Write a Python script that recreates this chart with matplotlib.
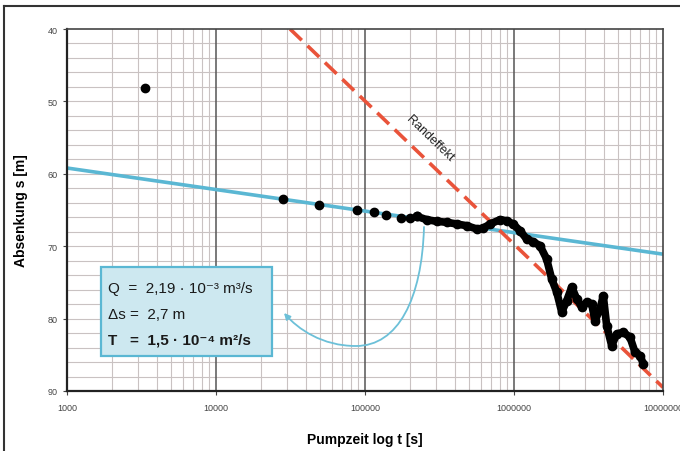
import numpy as np
import matplotlib
matplotlib.use("Agg")
import matplotlib.pyplot as plt
from matplotlib.path import Path
from matplotlib.patches import FancyArrowPatch, Rectangle
from matplotlib.lines import Line2D

plt.rcParams['font.family'] = ['Liberation Sans', 'DejaVu Sans']

# sparse early readings (t [s], s [m])
t_sparse = [3340, 28300, 49400, 88000, 115500, 138300, 174400, 200400, 222300]
s_sparse = [48.15, 63.48, 64.31, 64.96, 65.23, 65.65, 66.10, 66.15, 65.87]

# dense logger trace
t_dense = [222300, 259400, 302700, 353300, 412200, 481600, 562100, 619700, 690600, 805400,
           893000, 984400, 1.097e6, 1.216e6, 1.341e6, 1.494e6, 1.656e6, 1.790e6, 1.935e6,
           2.090e6, 2.259e6, 2.440e6, 2.636e6, 2.847e6, 3.077e6, 3.321e6, 3.497e6, 3.777e6,
           3.973e6, 4.188e6, 4.525e6, 4.887e6, 5.417e6, 6.008e6, 6.492e6, 7.015e6, 7.383e6]
s_dense = [65.87, 66.34, 66.56, 66.70, 66.93, 67.17, 67.62, 67.53, 66.93, 66.34,
           66.48, 66.93, 67.86, 69.01, 69.38, 69.93, 71.77, 74.53, 76.33,
           79.09, 77.53, 75.64, 77.29, 78.40, 77.71, 77.98, 80.29, 78.67,
           76.84, 80.98, 83.74, 82.13, 81.89, 82.58, 84.65, 85.12, 86.26]

# fitted straight lines
t_fit = [1e3, 1e7]
s_fit = [59.2, 71.1]
t_rand = [3.14e4, 1e7]
s_rand = [40.0, 89.5]

x_ticks = [1e3, 1e4, 1e5, 1e6, 1e7]
x_ticklabels = ["1000", "10000", "100000", "1000000", "10000000"]
y_ticks = [40, 50, 60, 70, 80, 90]

box_lines = ["Q  =  2,19 · 10⁻³ m³/s", "Δs =  2,7 m", "T   =  1,5 · 10⁻⁴ m²/s"]

fig = plt.figure(figsize=(6.8, 4.52), dpi=100)
ax = fig.add_axes([67 / 680, 60 / 452, 596 / 680, 362 / 452])

ax.set_xscale("log")
ax.set_xlim(1e3, 1e7)
ax.set_ylim(90, 40)

# grid
minor_x = [m * 10 ** e for e in range(3, 7) for m in range(2, 10)]
for x in minor_x:
    ax.axvline(x, color="#c9c2c2", lw=0.8, zorder=0)
for x in x_ticks[1:-1]:
    ax.axvline(x, color="#555555", lw=1.1, zorder=0.5)
for y in np.arange(42, 90, 2):
    ax.axhline(y, color="#c9c2c2", lw=0.8, zorder=0)

ax.set_xticks(x_ticks)
ax.set_xticklabels(x_ticklabels)
ax.xaxis.set_minor_locator(matplotlib.ticker.NullLocator())
ax.set_yticks(y_ticks)
ax.tick_params(axis="both", labelsize=6.5, labelcolor="#444444", color="#444444",
               length=3, width=0.8)
ax.tick_params(axis="x", pad=6)

for side in ["top", "right"]:
    ax.spines[side].set_color("#444444")
    ax.spines[side].set_linewidth(1.2)
for side in ["left", "bottom"]:
    ax.spines[side].set_color("#222222")
    ax.spines[side].set_linewidth(1.6)

ax.plot(t_fit, s_fit, color="#5ab7d3", lw=2.6, zorder=2, solid_capstyle="butt")
ax.plot(t_rand, s_rand, color="#e9533a", lw=2.6, dashes=(4.5, 2.2), zorder=2)

ax.plot(t_sparse, s_sparse, "o", color="black", ms=6, zorder=3)
ax.plot(t_dense, s_dense, "-", color="black", lw=5.5, solid_joinstyle="round",
        solid_capstyle="round", zorder=3)
ax.plot(t_dense, s_dense, "o", color="black", ms=6, zorder=3)

ax.text(2.73e5, 55.1, "Randeffekt", rotation=-44, rotation_mode="anchor",
        ha="center", va="center", fontsize=9, color="#222222")


def af(px, py):
    # pixel position -> axes fraction
    return ((px - 67) / 596, (392 - py) / 362)


# parameter box
x0, y0 = af(101, 357)
ax.add_patch(Rectangle((x0, y0), 171 / 596, 89 / 362, transform=ax.transAxes,
                       facecolor="#cde8f0", edgecolor="#5ab7d3", lw=1.6, zorder=4))
for txt, py, w in zip(box_lines, [289, 315, 341], ["normal", "normal", "bold"]):
    ax.text(*af(108, py), txt, transform=ax.transAxes, fontsize=11, fontweight=w,
            va="center", ha="left", color="#1a1a1a", zorder=5)

# curved arrow
verts = [af(424, 228), af(422, 300), af(398, 347), af(356, 347),
         af(322, 347), af(298, 330), af(284, 314)]
codes = [Path.MOVETO] + [Path.CURVE4] * 6
ax.add_patch(FancyArrowPatch(path=Path(verts, codes), arrowstyle="-|>", mutation_scale=9,
                             color="#6cc0d8", lw=1.3, transform=ax.transAxes, zorder=4))

ax.set_xlabel("Pumpzeit log t [s]", fontsize=10, fontweight="bold", labelpad=14)
ax.set_ylabel("Absenkung s [m]", fontsize=10, fontweight="bold", labelpad=14)

# outer frame (left and top edges)
fig.add_artist(Line2D([4 / 680, 4 / 680], [0, 1 - 7 / 452], color="#333333", lw=1.5))
fig.add_artist(Line2D([4 / 680, 1], [1 - 7 / 452, 1 - 7 / 452], color="#333333", lw=1.5))

fig.savefig("out.png", dpi=100)
